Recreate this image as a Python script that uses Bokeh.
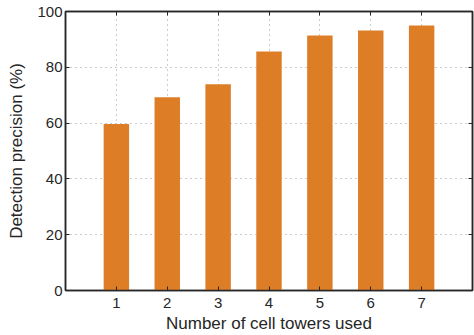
from bokeh.plotting import figure
from bokeh.models import LinearAxis, FixedTicker, Range1d
from bokeh.embed import file_html
from bokeh.resources import INLINE

towers = [1, 2, 3, 4, 5, 6, 7]
precision = [59.7, 69.3, 73.9, 85.7, 91.4, 93.2, 95.0]
y_ticks = [0, 20, 40, 60, 80, 100]

FONT = "Liberation Sans"
DARK = "#262626"

p = figure(width=474, height=335, output_backend="svg", toolbar_location=None,
           x_range=Range1d(0, 8), y_range=Range1d(0, 100),
           min_border_left=65, min_border_right=2, min_border_top=11, min_border_bottom=43,
           x_axis_label="Number of cell towers used", y_axis_label="Detection precision (%)")

p.vbar(x=towers, top=precision, width=0.5, fill_color="#dd7e27", line_color=None)

p.outline_line_color = DARK
p.outline_line_width = 1.5

for ax in (p.xaxis[0], p.yaxis[0]):
    ax.axis_line_color = DARK
    ax.axis_line_width = 1.5
    ax.major_tick_in = 4
    ax.major_tick_out = 0
    ax.minor_tick_line_color = None
    ax.major_tick_line_color = DARK
    ax.major_label_text_font = FONT
    ax.major_label_text_font_size = "15px"
    ax.major_label_text_color = DARK
    ax.axis_label_text_font = FONT
    ax.axis_label_text_font_size = "17px"
    ax.axis_label_text_font_style = "normal"
    ax.axis_label_text_color = DARK

p.xaxis[0].ticker = FixedTicker(ticks=towers)
p.yaxis[0].ticker = FixedTicker(ticks=y_ticks)
p.xaxis[0].major_label_standoff = 7
p.xaxis[0].axis_label_standoff = 3
p.yaxis[0].major_label_standoff = 3
p.yaxis[0].axis_label_standoff = 8

for loc, tick in (("above", towers), ("right", y_ticks)):
    a = LinearAxis(ticker=FixedTicker(ticks=tick))
    a.major_label_overrides = {t: "" for t in tick}
    a.major_label_text_color = None
    a.major_label_standoff = 0
    a.major_tick_in = 4
    a.major_tick_out = 0
    a.minor_tick_line_color = None
    a.axis_line_color = DARK
    a.axis_line_width = 1.5
    a.major_tick_line_color = DARK
    p.add_layout(a, loc)

p.xgrid.ticker = FixedTicker(ticks=towers)
p.ygrid.ticker = FixedTicker(ticks=y_ticks)
for g in (p.xgrid[0], p.ygrid[0]):
    g.grid_line_color = "#999999"
    g.grid_line_dash = "1 4"
    g.grid_line_width = 1

open("out.html", "w").write(file_html(p, INLINE))
